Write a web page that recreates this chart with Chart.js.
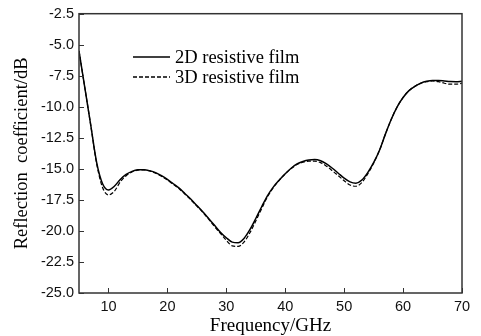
<!DOCTYPE html>
<html>
<head>
<meta charset="utf-8">
<script src="https://cdn.jsdelivr.net/npm/chart.js@4.4.0/dist/chart.umd.min.js"></script>
<style>
  html, body { margin: 0; padding: 0; background: #fff; }
  #wrap { width: 481px; height: 336px; position: relative; }
</style>
</head>
<body>
<div id="wrap"><canvas id="chart"></canvas></div>
<script>
// data
const freq = [5,6,7,8,9,10,11,12,13,14,15,16,17,18,19,20,21,22,23,24,25,26,27,28,29,30,31,32,33,34,35,36,37,38,39,40,
  41,42,43,44,45,46,47,48,49,50,51,52,53,54,55,56,57,58,59,60,61,62,63,64,65,66,67,68,69,70];
const film2D = [-5.5,-8.5,-11.5,-14.5,-16.2,-16.7,-16.4,-15.85,-15.45,-15.2,-15.08,-15.07,-15.15,-15.3,-15.55,-15.85,-16.2,-16.55,-17.0,-17.45,
  -17.95,-18.45,-19.0,-19.55,-20.1,-20.55,-20.9,-20.95,-20.6,-19.9,-19.0,-18.05,-17.15,-16.45,-15.9,-15.4,
  -14.95,-14.6,-14.4,-14.28,-14.25,-14.35,-14.6,-14.95,-15.35,-15.75,-16.05,-16.15,-15.9,-15.3,-14.5,-13.5,-12.2,-11.0,-10.0,-9.25,
  -8.7,-8.35,-8.1,-7.95,-7.88,-7.88,-7.92,-7.97,-7.98,-7.95];
const film3D = [-5.5,-8.5,-11.5,-14.6,-16.5,-17.1,-16.8,-16.05,-15.55,-15.25,-15.1,-15.08,-15.17,-15.35,-15.6,-15.9,-16.25,-16.6,-17.05,-17.5,
  -18.0,-18.5,-19.05,-19.65,-20.2,-20.75,-21.2,-21.25,-20.9,-20.15,-19.2,-18.2,-17.25,-16.5,-15.9,-15.4,
  -14.98,-14.65,-14.47,-14.38,-14.38,-14.5,-14.78,-15.15,-15.55,-15.95,-16.3,-16.4,-16.1,-15.4,-14.55,-13.5,-12.2,-11.0,-10.0,-9.25,
  -8.7,-8.35,-8.1,-7.97,-7.92,-7.97,-8.1,-8.18,-8.18,-8.1];
const seriesNames = ['2D resistive film', '3D resistive film'];
const xTicks = [10,20,30,40,50,60,70];
const yTicks = [-25,-22.5,-20,-17.5,-15,-12.5,-10,-7.5,-5,-2.5];

const axisColor = '#333';
const serif = '"Liberation Serif", "Times New Roman", serif';
const sans = '"Liberation Sans", Arial, sans-serif';

// frame, inward ticks and the legend inside the plot
const framePlugin = {
  id: 'frame',
  afterDraw(chart) {
    const {ctx, chartArea: a, scales} = chart;
    ctx.save();
    ctx.strokeStyle = axisColor;
    ctx.lineWidth = 1.5;
    ctx.strokeRect(a.left, a.top, a.right - a.left, a.bottom - a.top);
    ctx.lineWidth = 1;
    ctx.beginPath();
    xTicks.forEach(v => {
      const x = Math.round(scales.x.getPixelForValue(v)) + 0.5;
      ctx.moveTo(x, a.bottom); ctx.lineTo(x, a.bottom - 5);
    });
    yTicks.forEach(v => {
      const y = Math.round(scales.y.getPixelForValue(v)) + 0.5;
      ctx.moveTo(a.left, y); ctx.lineTo(a.left + 5, y);
    });
    ctx.stroke();

    // legend
    ctx.font = '18.5px ' + serif;
    ctx.fillStyle = '#000';
    ctx.textBaseline = 'middle';
    chart.data.datasets.forEach((ds, i) => {
      const y = 57 + i * 20;
      ctx.strokeStyle = '#000';
      ctx.lineWidth = 1.3;
      ctx.setLineDash(ds.borderDash || []);
      ctx.beginPath();
      ctx.moveTo(133, y); ctx.lineTo(170, y);
      ctx.stroke();
      ctx.setLineDash([]);
      ctx.fillText(ds.label, 175, y + 1);
    });
    ctx.restore();
  }
};

const ctx = document.getElementById('chart').getContext('2d');
const chart = new Chart(ctx, {
  type: 'line',
  data: {
    datasets: [{
      label: seriesNames[0],
      data: freq.map((f, i) => ({x: f, y: film2D[i]})),
      borderColor: '#000',
      borderWidth: 1.5,
      pointRadius: 0,
      cubicInterpolationMode: 'monotone'
    }, {
      label: seriesNames[1],
      data: freq.map((f, i) => ({x: f, y: film3D[i]})),
      borderColor: '#000',
      borderWidth: 1.2,
      borderDash: [4, 2],
      pointRadius: 0,
      cubicInterpolationMode: 'monotone'
    }]
  },
  options: {
    responsive: true,
    maintainAspectRatio: false,
    animation: false,
    layout: { padding: { top: 13, right: 19, left: 0, bottom: 0 } },
    plugins: { legend: { display: false }, tooltip: { enabled: false } },
    scales: {
      x: {
        type: 'linear',
        min: 5, max: 70,
        afterBuildTicks: s => { s.ticks = xTicks.map(v => ({value: v})); },
        afterFit: s => { s.height = 43; },
        grid: { display: false, drawTicks: false },
        border: { display: false },
        ticks: { color: '#111', font: { family: sans, size: 14.5 }, padding: 5, maxRotation: 0 },
        title: { display: true, text: 'Frequency/GHz', color: '#000',
                 font: { family: serif, size: 19, lineHeight: 1 }, padding: { top: 0, bottom: 0 } }
      },
      y: {
        min: -25, max: -2.5,
        afterBuildTicks: s => { s.ticks = yTicks.map(v => ({value: v})); },
        afterFit: s => { s.width = 79; },
        grid: { display: false, drawTicks: false },
        border: { display: false },
        ticks: { color: '#111', font: { family: sans, size: 14.5 }, padding: 5,
                 callback: v => v.toFixed(1) },
        title: { display: true, text: 'Reflection  coefficient/dB', color: '#000',
                 font: { family: serif, size: 18.5, lineHeight: 1 }, padding: { top: 13, bottom: 0 } }
      }
    }
  },
  plugins: [framePlugin]
});
</script>
</body>
</html>
